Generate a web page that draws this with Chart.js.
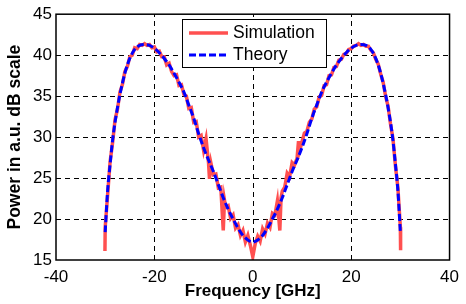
<!DOCTYPE html>
<html>
<head>
<meta charset="utf-8">
<script src="https://cdn.jsdelivr.net/npm/chart.js@4.4.1/dist/chart.umd.min.js"></script>
<style>
  html, body { margin: 0; padding: 0; background: #fff; }
  #wrap { width: 466px; height: 304px; }
</style>
</head>
<body>
<div id="wrap"><canvas id="grafica"></canvas></div>
<script>
// Datos
const theoryX = [-30, -29.5, -29, -28.5, -28, -27.5, -27, -26, -25, -24, -23, -22, -21, -20, -19, -18, -17, -16, -15, -14, -13, -12, -11, -10, -9, -8, -7, -6, -5, -4, -3, -2, -1, 0,
  1, 2, 3, 4, 5, 6, 7, 8, 9, 10, 11, 12, 13, 14, 15, 16, 17, 18, 19, 20, 21, 22, 23, 24, 25, 26, 27, 27.5, 28, 28.5, 29, 29.5, 30];
const theoryY = [18.4, 23.5, 26.7, 29.6, 31.8, 33.6, 35.2, 37.8, 39.6, 40.7, 41.2, 41.3, 41.2, 40.85, 40.3, 39.6, 38.8, 37.8, 36.7, 35.5, 33.9, 32.3, 30.4, 28.7, 27.2, 25.8, 24.2, 22.6, 21.2, 20.0, 18.9, 18.0, 17.45, 17.2,
  17.45, 18.0, 18.9, 20.0, 21.2, 22.6, 24.2, 25.8, 27.2, 28.7, 30.4, 32.3, 33.9, 35.5, 36.7, 37.8, 38.8, 39.6, 40.3, 40.85, 41.2, 41.3, 41.2, 40.7, 39.6, 37.8, 35.2, 33.6, 31.8, 29.6, 26.7, 23.5, 18.4];

const simX = [-30.05, -30, -29.5, -29, -28.5, -28, -27.5, -27, -26.5, -26, -25.5, -25, -24.5, -24, -23.5, -23, -22.5, -22, -21.5, -21, -20.5, -20,
  -19.5, -19, -18.5, -18, -17.5, -17, -16.5, -16, -15.5, -15, -14.5, -14, -13.5, -13, -12.5, -12, -11.5, -11, -10.5, -10,
  -9.5, -9, -8.8, -8.5, -8, -7.5, -7, -6.5, -6, -5.75, -5.5, -5, -4.5, -4, -3.5, -3, -2.5, -2, -1.5, -1, -0.5, 0,
  0.5, 1, 1.5, 2, 2.5, 3, 3.5, 4, 4.5, 5, 5.5, 5.75, 6, 6.5, 7, 7.5, 8, 8.5, 9, 9.3, 9.5, 10,
  10.5, 11, 11.5, 12, 12.5, 13, 13.5, 14, 14.5, 15, 15.5, 16, 16.5, 17, 17.5, 18, 18.5, 19, 19.5, 20,
  20.5, 21, 21.5, 22, 22.5, 23, 23.5, 24, 24.5, 25, 25.5, 26, 26.5, 27, 27.5, 28, 28.5, 29, 29.5, 30, 30.05];
const simY = [16.1, 19.0, 23.0, 27.0, 29.3, 32.1, 33.4, 35.5, 36.4, 38.0, 38.6, 39.8, 40.0, 40.9, 40.8, 41.3, 41.2, 41.4, 41.2, 41.3, 40.9, 41.0,
  40.4, 40.5, 39.8, 39.8, 38.8, 39.0, 38.0, 37.5, 37.6, 36.3, 36.4, 35.2, 35.0, 33.5, 33.6, 31.8, 31.9, 30.0, 30.2, 28.4,
  29.8, 26.9, 24.9, 26.8, 25.4, 25.5, 23.8, 23.9, 18.6, 22.3, 21.4, 21.6, 20.1, 20.5, 18.9, 19.3, 18.0, 18.6, 17.2, 18.0, 16.8, 15.4,
  17.0, 17.9, 17.3, 18.8, 18.2, 19.5, 19.0, 20.7, 20.5, 22.2, 18.6, 22.6, 23.4, 23.9, 25.6, 25.2, 26.9, 26.6, 27.4, 29.5, 28.3, 29.4,
  30.5, 30.7, 31.8, 32.2, 33.4, 33.7, 34.9, 35.1, 36.3, 36.4, 37.5, 37.6, 38.5, 38.6, 39.4, 39.5, 40.1, 40.2, 40.7, 40.8,
  41.1, 41.2, 41.4, 41.2, 41.3, 41.1, 41.1, 40.6, 40.3, 39.5, 38.9, 37.7, 36.7, 35.0, 33.8, 31.6, 29.8, 26.5, 23.8, 19.0, 16.2];

const xTicks = [-40, -20, 0, 20, 40];
const yTicks = [15, 20, 25, 30, 35, 40, 45];

function pares(xs, ys) {
    return xs.map((x, i) => ({ x: x, y: ys[i] }));
}

// Rejilla discontinua detras de las curvas
const rejilla = {
    id: 'rejilla',
    beforeDatasetsDraw(chart) {
        const ctx = chart.ctx;
        const a = chart.chartArea;
        const sx = chart.scales.x, sy = chart.scales.y;
        ctx.save();
        ctx.strokeStyle = '#000';
        ctx.lineWidth = 1;
        ctx.setLineDash([5, 4]);
        xTicks.slice(1, -1).forEach(v => {
            const px = Math.round(sx.getPixelForValue(v)) + 0.5;
            ctx.beginPath();
            ctx.moveTo(px, a.bottom);
            ctx.lineTo(px, a.top);
            ctx.stroke();
        });
        yTicks.slice(1, -1).forEach(v => {
            const py = Math.round(sy.getPixelForValue(v)) + 0.5;
            ctx.beginPath();
            ctx.moveTo(a.left, py);
            ctx.lineTo(a.right, py);
            ctx.stroke();
        });
        ctx.restore();
    }
};

// Marco completo y leyenda estilo MATLAB
const marcoYLeyenda = {
    id: 'marcoYLeyenda',
    afterDraw(chart) {
        const ctx = chart.ctx;
        const a = chart.chartArea;
        ctx.save();
        ctx.strokeStyle = '#000';
        ctx.lineWidth = 1.5;
        ctx.setLineDash([]);
        ctx.strokeRect(a.left, a.top, a.right - a.left, a.bottom - a.top);

        // leyenda
        const bx = 182, by = 19, bw = 144, bh = 48;
        ctx.fillStyle = '#fff';
        ctx.fillRect(bx, by, bw, bh);
        ctx.lineWidth = 1;
        ctx.strokeRect(bx + 0.5, by + 0.5, bw, bh);
        const filas = [chart.data.datasets[0], chart.data.datasets[1]];
        filas.forEach((ds, i) => {
            const yy = by + 14 + i * 22;
            ctx.strokeStyle = ds.borderColor;
            ctx.lineWidth = ds.borderWidth;
            ctx.setLineDash(ds.borderDash || []);
            ctx.beginPath();
            ctx.moveTo(bx + 7, yy);
            ctx.lineTo(bx + 46, yy);
            ctx.stroke();
            ctx.setLineDash([]);
            ctx.fillStyle = '#000';
            ctx.font = '17.5px "Liberation Sans", Arial, sans-serif';
            ctx.textBaseline = 'middle';
            ctx.fillText(ds.label, bx + 51, yy);
        });
        ctx.restore();
    }
};

new Chart(document.getElementById('grafica'), {
    type: 'line',
    data: {
        datasets: [
            {
                label: 'Simulation',
                data: pares(simX, simY),
                borderColor: 'rgb(255, 80, 80)',
                borderWidth: 3.5,
                pointRadius: 0,
                tension: 0,
                order: 2
            },
            {
                label: 'Theory',
                data: pares(theoryX, theoryY),
                borderColor: '#0000ff',
                borderWidth: 3,
                borderDash: [7, 3],
                pointRadius: 0,
                cubicInterpolationMode: 'monotone',
                order: 1
            }
        ]
    },
    options: {
        responsive: true,
        maintainAspectRatio: false,
        animation: false,
        layout: { padding: { top: 10, right: 11, left: 0, bottom: 0 } },
        plugins: {
            legend: { display: false },
            tooltip: { enabled: false }
        },
        scales: {
            x: {
                type: 'linear',
                min: -40,
                max: 40,
                afterBuildTicks: (s) => { s.ticks = xTicks.map(v => ({ value: v })); },
                afterFit: (s) => { s.height = 44; },
                grid: { display: false, drawTicks: false },
                border: { display: false },
                ticks: {
                    color: '#000',
                    padding: 7,
                    maxRotation: 0,
                    autoSkip: false,
                    font: { family: '"Liberation Sans", Arial, sans-serif', size: 17 }
                },
                title: {
                    display: true,
                    text: 'Frequency [GHz]',
                    color: '#000',
                    padding: { top: 0, bottom: 2 },
                    font: { family: '"Liberation Sans", Arial, sans-serif', size: 17, weight: 'bold' }
                }
            },
            y: {
                min: 15,
                max: 45,
                afterBuildTicks: (s) => { s.ticks = yTicks.map(v => ({ value: v })); },
                afterFit: (s) => { s.width = 56; },
                grid: { display: false, drawTicks: false },
                border: { display: false },
                ticks: {
                    color: '#000',
                    padding: 4,
                    autoSkip: false,
                    font: { family: '"Liberation Sans", Arial, sans-serif', size: 17 }
                },
                title: {
                    display: true,
                    text: 'Power in a.u. dB scale',
                    color: '#000',
                    padding: { top: 5, bottom: 0 },
                    font: { family: '"Liberation Sans", Arial, sans-serif', size: 17.5, weight: 'bold' }
                }
            }
        }
    },
    plugins: [rejilla, marcoYLeyenda]
});
</script>
</body>
</html>
